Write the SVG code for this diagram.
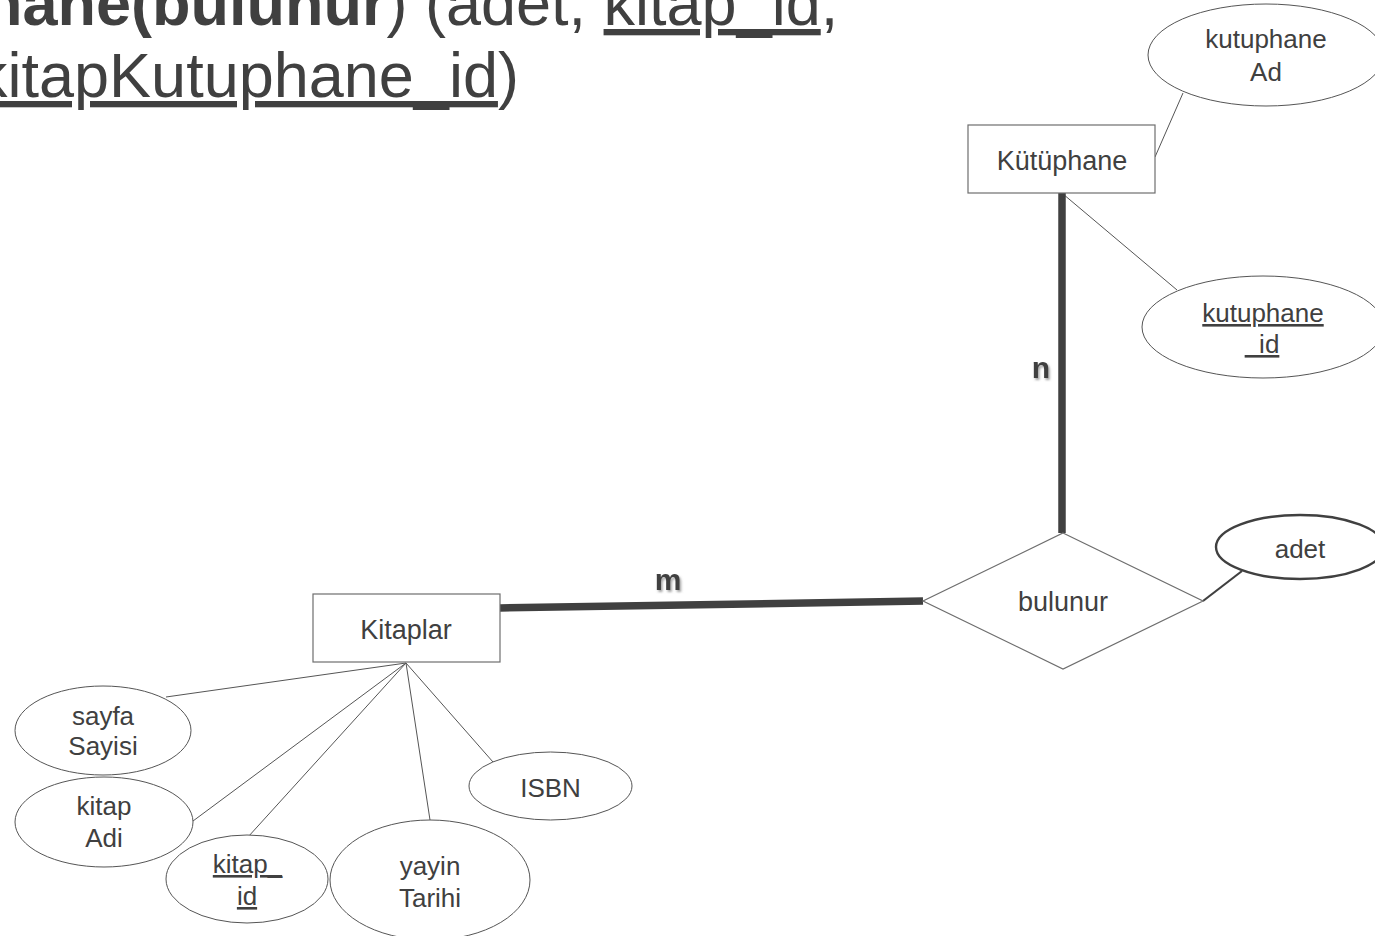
<svg xmlns="http://www.w3.org/2000/svg" width="1375" height="936" viewBox="0 0 1375 936">
<defs>
<style>
text{font-family:"Liberation Sans",Arial,sans-serif;fill:#404040}
.lbl{font-size:27px;text-anchor:middle}
.att{font-size:26px;text-anchor:middle}
.ul{text-decoration:underline}
.ent{fill:#fff;stroke:#6e6e6e;stroke-width:1.2}
.attr{fill:#fff;stroke:#555;stroke-width:1}
.thin{stroke:#555;stroke-width:1;fill:none}
.thick{stroke:#404040;stroke-width:7.5;fill:none}
.card{font-size:30px;font-weight:bold;text-anchor:middle;fill:#404040}
</style>
<filter id="sh" x="-50%" y="-50%" width="200%" height="200%">
<feDropShadow dx="1.5" dy="2" stdDeviation="1.2" flood-color="#8a8a8a" flood-opacity="0.8"/>
</filter>
</defs>
<rect width="1375" height="936" fill="#fff"/>

<g id="title">
<text x="-16" y="25" style="font-size:63px" xml:space="preserve"><tspan font-weight="bold">hane(bulunur</tspan>) (adet, <tspan class="ul">kitap_id</tspan>,</text>
<text x="-24" y="97" style="font-size:63px"><tspan class="ul">kitapKutuphane_id</tspan>)</text>
</g>

<g id="connectors">
<line class="thin" x1="1155" y1="157" x2="1183" y2="93"/>
<line class="thin" x1="1063" y1="194" x2="1177" y2="290"/>
<line class="thick" x1="1062" y1="193" x2="1062" y2="533"/>
<line class="thick" x1="500" y1="608" x2="923" y2="601"/>
<line stroke="#404040" stroke-width="2.2" x1="1203" y1="601" x2="1242" y2="571"/>
<line class="thin" x1="406" y1="663" x2="166" y2="697"/>
<line class="thin" x1="406" y1="663" x2="193" y2="821"/>
<line class="thin" x1="406" y1="663" x2="248" y2="837"/>
<line class="thin" x1="406" y1="663" x2="430" y2="820"/>
<line class="thin" x1="406" y1="663" x2="493" y2="762"/>
<text class="card" x="1041" y="378" filter="url(#sh)">n</text>
<text class="card" x="668" y="590" filter="url(#sh)">m</text>
</g>

<g id="kutuphane">
<rect class="ent" x="968" y="125" width="187" height="68"/>
<text class="lbl" x="1062" y="170">Kütüphane</text>
</g>

<g id="kutuphaneAd">
<ellipse class="attr" cx="1266" cy="55" rx="118" ry="51"/>
<text class="att" x="1266" y="48">kutuphane</text>
<text class="att" x="1266" y="81">Ad</text>
</g>

<g id="kutuphaneId">
<ellipse class="attr" cx="1263" cy="327" rx="121" ry="51"/>
<text class="att ul" x="1263" y="322">kutuphane</text>
<text class="att ul" x="1262" y="353">&#160;&#160;id</text>
</g>

<g id="bulunur">
<polygon class="ent" points="1063,533 1203,601 1063,669 923,601"/>
<text class="lbl" x="1063" y="611">bulunur</text>
</g>

<g id="adet">
<ellipse fill="#fff" stroke="#404040" stroke-width="2.4" cx="1300" cy="547" rx="84" ry="32"/>
<text class="att" x="1300" y="558">adet</text>
</g>

<g id="kitaplar">
<rect class="ent" x="313" y="594" width="187" height="68"/>
<text class="lbl" x="406" y="639">Kitaplar</text>
</g>

<g id="sayfaSayisi">
<ellipse class="attr" cx="103" cy="730.5" rx="88" ry="44.5"/>
<text class="att" x="103" y="725">sayfa</text>
<text class="att" x="103" y="755">Sayisi</text>
</g>

<g id="kitapAdi">
<ellipse class="attr" cx="104" cy="822" rx="89" ry="45"/>
<text class="att" x="104" y="815">kitap</text>
<text class="att" x="104" y="847">Adi</text>
</g>

<g id="kitapId">
<ellipse class="attr" cx="247" cy="879" rx="81" ry="44"/>
<text class="att ul" x="247.5" y="873">kitap_</text>
<text class="att ul" x="247" y="905">id</text>
</g>

<g id="yayinTarihi">
<ellipse class="attr" cx="430" cy="880" rx="100" ry="60"/>
<text class="att" x="430" y="875">yayin</text>
<text class="att" x="430" y="907">Tarihi</text>
</g>

<g id="isbn">
<ellipse class="attr" cx="550.5" cy="786" rx="81.5" ry="34"/>
<text class="att" x="550.5" y="797">ISBN</text>
</g>
</svg>
